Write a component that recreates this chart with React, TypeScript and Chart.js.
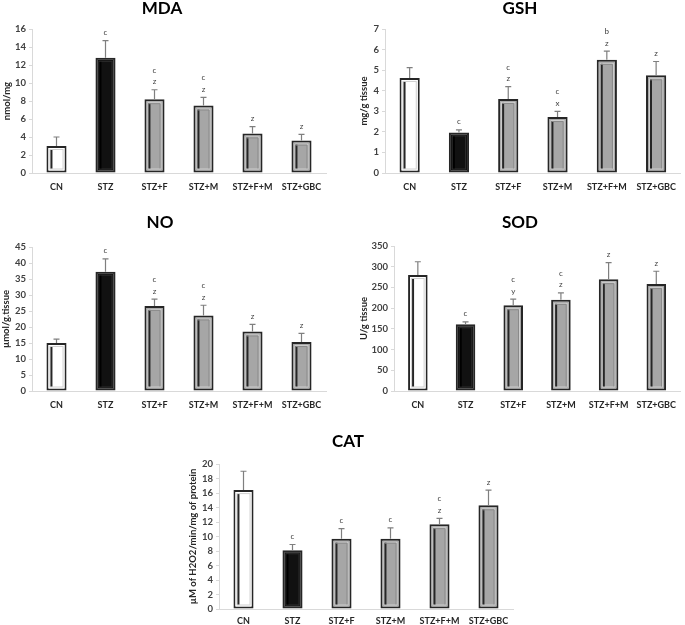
import React, { useEffect, useRef } from "react";
import { Chart, registerables } from "chart.js";

Chart.register(...registerables);

const FONT = "Lato";

const categories = ["CN", "STZ", "STZ+F", "STZ+M", "STZ+F+M", "STZ+GBC"];
const barFills = ["#ffffff", "#111111", "#a6a6a6", "#a6a6a6", "#a6a6a6", "#a6a6a6"];

const mdaValues = [3.0, 12.8, 8.2, 7.5, 4.4, 3.6];
const mdaErrors = [1.0, 1.9, 1.05, 0.9, 0.75, 0.7];
const mdaLetters = [[], ["c"], ["z", "c"], ["z", "c"], ["z"], ["z"]];
const mdaTicks = { max: 16, step: 2 };

const gshValues = [4.62, 1.97, 3.6, 2.72, 5.5, 4.75];
const gshErrors = [0.5, 0.13, 0.6, 0.28, 0.42, 0.67];
const gshLetters = [[], ["c"], ["z", "c"], ["x", "c"], ["z", "b"], ["z"]];
const gshTicks = { max: 7, step: 1 };

const noValues = [15.0, 37.3, 26.6, 23.6, 18.6, 15.3];
const noErrors = [1.2, 4.0, 2.1, 3.2, 2.2, 2.7];
const noLetters = [[], ["c"], ["z", "c"], ["z", "c"], ["z"], ["z"]];
const noTicks = { max: 45, step: 5 };

const sodValues = [280, 161, 207, 220, 270, 258];
const sodErrors = [32, 6, 15, 17, 40, 31];
const sodLetters = [[], ["c"], ["y", "c"], ["z", "c"], ["z"], ["z"]];
const sodTicks = { max: 350, step: 50 };

const catValues = [16.4, 8.1, 9.7, 9.7, 11.7, 14.3];
const catErrors = [2.6, 0.8, 1.4, 1.5, 0.8, 2.1];
const catLetters = [[], ["c"], ["c"], ["c"], ["z", "c"], ["z"]];
const catTicks = { max: 20, step: 2 };

type PanelProps = {
  title: string;
  yTitle: string;
  values: number[];
  errors: number[];
  letters: string[][];
  ticks: { max: number; step: number };
  box: { left: number; top: number; width: number; height: number };
  area: { left: number; right: number; top: number; bottom: number };
  titlePos: { x: number; y: number };
  yTitleX: number;
  xPad: number;
};

function Panel(p: PanelProps) {
  const ref = useRef<HTMLCanvasElement | null>(null);
  useEffect(() => {
    const canvas = ref.current;
    if (!canvas) return;
    const yW = p.area.left - p.box.left;
    const xH = p.box.top + p.box.height - p.area.bottom;
    const padTop = p.area.top - p.box.top;
    const padRight = p.box.left + p.box.width - p.area.right;

    const decor = {
      id: "decor",
      afterDatasetsDraw(chart: any) {
        const ctx = chart.ctx;
        const meta = chart.getDatasetMeta(0);
        const yScale = chart.scales.y;
        meta.data.forEach((el: any, i: number) => {
          const w = el.width;
          const l = el.x - w / 2;
          const r = el.x + w / 2;
          const t = el.y;
          const b = el.base;
          ctx.save();
          const light = i === 0 ? "#d0d0d0" : i === 1 ? "#2e2e2e" : "#cfcfcf";
          const dark = i === 1 ? "#000000" : "#262626";
          ctx.strokeStyle = light;
          ctx.lineWidth = 1;
          ctx.strokeRect(l + 3.5, t + 3.5, w - 7, b - t - 7);
          ctx.strokeStyle = dark;
          ctx.lineWidth = 2;
          ctx.beginPath();
          ctx.moveTo(l + 5, t + 4);
          ctx.lineTo(l + 5, b - 4);
          ctx.stroke();
          if (i >= 2) {
            ctx.strokeStyle = "#8a8a8a";
            ctx.lineWidth = 1;
            ctx.beginPath();
            ctx.moveTo(l + 4, t + 4.5);
            ctx.lineTo(r - 4.5, t + 4.5);
            ctx.lineTo(r - 4.5, b - 4);
            ctx.stroke();
          }
          const eTop = yScale.getPixelForValue(p.values[i] + p.errors[i]);
          ctx.strokeStyle = "#7f7f7f";
          ctx.lineWidth = 1.2;
          ctx.beginPath();
          ctx.moveTo(el.x, t);
          ctx.lineTo(el.x, eTop);
          ctx.moveTo(el.x - 3, eTop);
          ctx.lineTo(el.x + 3, eTop);
          ctx.stroke();
          ctx.fillStyle = "#404040";
          ctx.font = `8px ${FONT}`;
          ctx.textAlign = "center";
          ctx.textBaseline = "middle";
          p.letters[i].forEach((s, k) => {
            ctx.fillText(s, el.x, eTop - 8 - k * 11.5);
          });
          ctx.restore();
        });
      },
      afterDraw(chart: any) {
        const ctx = chart.ctx;
        ctx.save();
        ctx.fillStyle = "#000000";
        ctx.font = `bold 17px ${FONT}`;
        ctx.textAlign = "center";
        ctx.textBaseline = "middle";
        ctx.fillText(p.title, p.titlePos.x - p.box.left, p.titlePos.y - p.box.top);
        ctx.translate(p.yTitleX - p.box.left, (p.area.top + p.area.bottom) / 2 - p.box.top);
        ctx.rotate(-Math.PI / 2);
        ctx.font = `bold 9.5px ${FONT}`;
        ctx.fillStyle = "#262626";
        ctx.fillText(p.yTitle, 0, 0);
        ctx.restore();
      },
    };

    const chart = new Chart(canvas, {
      type: "bar",
      data: {
        labels: categories,
        datasets: [
          {
            data: p.values,
            backgroundColor: barFills,
            borderColor: "#262626",
            borderWidth: 2,
            borderSkipped: false,
            barPercentage: 0.41,
            categoryPercentage: 1,
          },
        ],
      },
      options: {
        animation: false,
        responsive: false,
        maintainAspectRatio: false,
        devicePixelRatio: 1,
        layout: { padding: { top: padTop, right: padRight, left: 0, bottom: 0 } },
        plugins: {
          legend: { display: false },
          tooltip: { enabled: false },
          title: { display: false },
        },
        scales: {
          x: {
            grid: { display: false, drawTicks: false, tickLength: 0 },
            border: { color: "#d9d9d9", width: 1 },
            ticks: {
              font: { family: FONT, size: 9, weight: "bold" },
              color: "#262626",
              padding: p.xPad,
              maxRotation: 0,
              autoSkip: false,
            },
            afterFit: (s: any) => {
              s.height = xH;
            },
          },
          y: {
            min: 0,
            max: p.ticks.max,
            ticks: {
              stepSize: p.ticks.step,
              font: { family: FONT, size: 9.5, weight: "bold" },
              color: "#404040",
              padding: 3,
            },
            grid: { drawOnChartArea: false, tickLength: 3, color: "#d9d9d9" },
            border: { color: "#d9d9d9", width: 1 },
            afterFit: (s: any) => {
              s.width = yW;
            },
          },
        },
      },
      plugins: [decor],
    } as any);
    return () => chart.destroy();
  }, []);
  return (
    <canvas
      ref={ref}
      width={p.box.width}
      height={p.box.height}
      style={{
        position: "absolute",
        left: p.box.left,
        top: p.box.top,
        width: p.box.width,
        height: p.box.height,
      }}
    />
  );
}

export default function App() {
  return (
    <div
      style={{
        position: "absolute",
        left: 0,
        top: 0,
        width: 685,
        height: 625,
        overflow: "hidden",
        background: "#fff",
      }}
    >
      <Panel
        title="MDA"
        yTitle="nmol/mg"
        values={mdaValues}
        errors={mdaErrors}
        letters={mdaLetters}
        ticks={mdaTicks}
        box={{ left: 0, top: 0, width: 335, height: 200 }}
        area={{ left: 32, right: 326, top: 29, bottom: 173 }}
        titlePos={{ x: 162, y: 9 }}
        yTitleX={7}
        xPad={9}
      />
      <Panel
        title="GSH"
        yTitle="mg/g tissue"
        values={gshValues}
        errors={gshErrors}
        letters={gshLetters}
        ticks={gshTicks}
        box={{ left: 340, top: 0, width: 345, height: 200 }}
        area={{ left: 385, right: 683, top: 29, bottom: 173 }}
        titlePos={{ x: 520, y: 9 }}
        yTitleX={364}
        xPad={9}
      />
      <Panel
        title="NO"
        yTitle="µmol/g.tissue"
        values={noValues}
        errors={noErrors}
        letters={noLetters}
        ticks={noTicks}
        box={{ left: 0, top: 205, width: 335, height: 210 }}
        area={{ left: 32, right: 326, top: 247, bottom: 391 }}
        titlePos={{ x: 160, y: 223 }}
        yTitleX={6}
        xPad={9}
      />
      <Panel
        title="SOD"
        yTitle="U/g tissue"
        values={sodValues}
        errors={sodErrors}
        letters={sodLetters}
        ticks={sodTicks}
        box={{ left: 340, top: 205, width: 345, height: 210 }}
        area={{ left: 394, right: 685, top: 246, bottom: 391 }}
        titlePos={{ x: 520, y: 223 }}
        yTitleX={364}
        xPad={9}
      />
      <Panel
        title="CAT"
        yTitle="µM of H2O2/min/mg of protein"
        values={catValues}
        errors={catErrors}
        letters={catLetters}
        ticks={catTicks}
        box={{ left: 170, top: 425, width: 360, height: 215 }}
        area={{ left: 219, right: 513, top: 464, bottom: 609 }}
        titlePos={{ x: 348, y: 442 }}
        yTitleX={193}
        xPad={7}
      />
    </div>
  );
}
